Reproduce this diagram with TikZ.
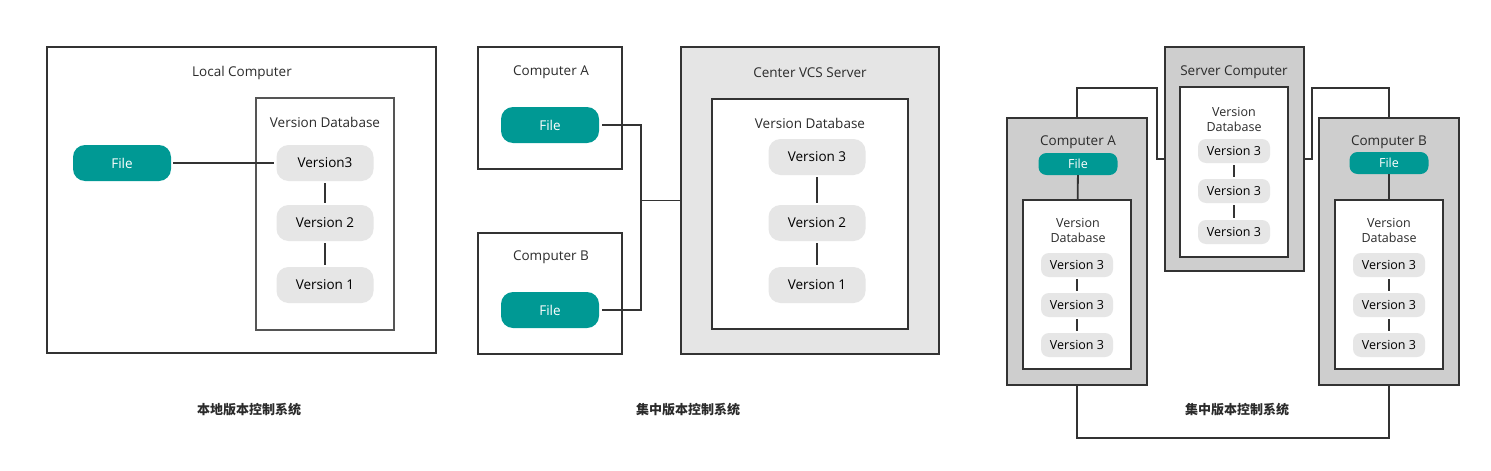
\documentclass[tikz,border=0pt]{standalone}
\usepackage{fontspec}
\setmainfont{Open Sans}
\newfontfamily\cjk{Noto Sans CJK SC}
\usetikzlibrary{positioning}

\definecolor{filegreen}{HTML}{009994}
\definecolor{vergray}{HTML}{E6E6E6}
\definecolor{srvgray}{HTML}{E5E5E5}
\definecolor{boxgray}{HTML}{CECECE}
\definecolor{linegray}{HTML}{333333}
\definecolor{dbline}{HTML}{555555}
\definecolor{txtgray}{HTML}{2B2B2B}

\tikzset{
  outerbox/.style={draw=linegray, line width=2pt, inner sep=0pt},
  dbbox/.style={draw=dbline, line width=1.6pt, fill=white, inner sep=0pt},
  title/.style={text=txtgray, inner sep=0pt, font=\fontsize{13.5}{15}\selectfont},
  filebox/.style={fill=filegreen, text=white, rounded corners=12pt, minimum width=98pt,
    minimum height=36pt, inner sep=0pt, font=\fontsize{13.5}{15}\selectfont},
  verbox/.style={fill=vergray, text=black, rounded corners=12pt, minimum width=97pt,
    minimum height=36pt, inner sep=0pt, font=\fontsize{13.5}{15}\selectfont},
  smallfile/.style={filebox, rounded corners=8pt, minimum width=79pt, minimum height=22pt,
    font=\fontsize{12.5}{14}\selectfont},
  smallver/.style={verbox, rounded corners=8pt, minimum width=72pt, minimum height=24pt,
    font=\fontsize{12.5}{14}\selectfont},
  smalltitle/.style={title, align=center, font=\fontsize{12.5}{15}\selectfont},
  link/.style={draw=linegray, line width=1.8pt, shorten <=2pt, shorten >=2pt},
  wire/.style={draw=linegray, line width=1.8pt},
  caption/.style={inner sep=0pt, text=txtgray, font=\cjk\bfseries\fontsize{13}{15}\selectfont}
}

\begin{document}
\begin{tikzpicture}[x=1pt,y=-1pt]
    \useasboundingbox (0,0) rectangle (1491,471);

    % Local version control
    \node[outerbox, minimum width=389pt, minimum height=306pt] (local) at (241.5,200) {};
    \node[title] (localT) at (242,72.5) {Local Computer};
    \node[dbbox, minimum width=138pt, minimum height=232pt] (localDB) at (325,214) {};
    \node[title] (localDBT) at (325,122.5) {Version Database};
    \node[filebox] (localF) at (122,163) {File};
    \node[verbox] (localV3) at (325,163) {Version3};
    \node[verbox] (localV2) at (325,223) {Version 2};
    \node[verbox] (localV1) at (325,285) {Version 1};
    \draw[link] (localF) -- (localV3);
    \draw[link] (localV3) -- (localV2);
    \draw[link] (localV2) -- (localV1);
    \node[caption] (localC) at (249,410) {本地版本控制系统};

    % Centralized version control
    \node[outerbox, minimum width=144pt, minimum height=122pt] (compA) at (550,108) {};
    \node[title] (compAT) at (551,72.5) {Computer A};
    \node[filebox] (fileA) at (550,125) {File};
    \node[outerbox, minimum width=144pt, minimum height=121pt] (compB) at (550,293.5) {};
    \node[title] (compBT) at (551,257.5) {Computer B};
    \node[filebox] (fileB) at (550,310) {File};
    \node[outerbox, fill=srvgray, minimum width=258pt, minimum height=307pt] (server) at (810,200.5) {};
    \node[title] (serverT) at (810,72.5) {Center VCS Server};
    \node[dbbox, draw=linegray, line width=2pt, minimum width=196pt, minimum height=230pt] (serverDB) at (810,214) {};
    \node[title] (serverDBT) at (810,123.5) {Version Database};
    \node[verbox] (serverV3) at (817,157) {Version 3};
    \node[verbox] (serverV2) at (817,223) {Version 2};
    \node[verbox] (serverV1) at (817,285) {Version 1};
    \draw[link] (serverV3) -- (serverV2);
    \draw[link] (serverV2) -- (serverV1);
    \coordinate (hub) at (641,200.5);
    \draw[wire, shorten <=3pt] (fileA.east) -| (hub);
    \draw[wire, shorten <=3pt] (fileB.east) -| (hub);
    \draw[wire] (hub) -- (server.west);
    \node[caption] (centralC) at (688,410) {集中版本控制系统};

    % Distributed version control
    \node[outerbox, fill=boxgray, minimum width=139pt, minimum height=224pt] (srv) at (1234.5,159) {};
    \node[title] (srvT) at (1234,72.5) {Server Computer};
    \node[dbbox, draw=linegray, line width=2pt, minimum width=108pt, minimum height=170pt] (srvDB) at (1234,172) {};
    \node[smalltitle] (srvDBT) at (1234,119.5) {Version\\Database};
    \node[smallver] (srvV3a) at (1234,151) {Version 3};
    \node[smallver] (srvV3b) at (1234,191) {Version 3};
    \node[smallver] (srvV3c) at (1234,232) {Version 3};
    \draw[link] (srvV3a) -- (srvV3b);
    \draw[link] (srvV3b) -- (srvV3c);

    \node[outerbox, fill=boxgray, minimum width=140pt, minimum height=267pt] (distA) at (1077,251.5) {};
    \node[title] (distAT) at (1078,142.5) {Computer A};
    \node[smallfile] (distAF) at (1078,164) {File};
    \node[dbbox, draw=linegray, line width=2pt, minimum width=108pt, minimum height=169pt] (distADB) at (1077,284.5) {};
    \node[smalltitle] (distADBT) at (1078,230.5) {Version\\Database};
    \node[smallver] (distAV3a) at (1077,265) {Version 3};
    \node[smallver] (distAV3b) at (1077,305) {Version 3};
    \node[smallver] (distAV3c) at (1077,345) {Version 3};
    \draw[wire] (distAF) -- (distADB);
    \draw[link] (distAV3a) -- (distAV3b);
    \draw[link] (distAV3b) -- (distAV3c);

    \node[outerbox, fill=boxgray, minimum width=140pt, minimum height=267pt] (distB) at (1389,251.5) {};
    \node[title] (distBT) at (1389,142.5) {Computer B};
    \node[smallfile] (distBF) at (1389,163) {File};
    \node[dbbox, draw=linegray, line width=2pt, minimum width=108pt, minimum height=169pt] (distBDB) at (1389,284.5) {};
    \node[smalltitle] (distBDBT) at (1389,230.5) {Version\\Database};
    \node[smallver] (distBV3a) at (1389,265) {Version 3};
    \node[smallver] (distBV3b) at (1389,305) {Version 3};
    \node[smallver] (distBV3c) at (1389,345) {Version 3};
    \draw[wire] (distBF) -- (distBDB);
    \draw[link] (distBV3a) -- (distBV3b);
    \draw[link] (distBV3b) -- (distBV3c);

    \coordinate (kinkA) at (1157,88);
    \coordinate (kinkB) at (1312,88);
    \coordinate (kinkC) at (1234,438);
    \draw[wire] (distA.north) |- (kinkA) |- (srv.west);
    \draw[wire] (srv.east) -| (kinkB) -| (distB.north);
    \draw[wire] (distA.south) |- (kinkC) -| (distB.south);
    \node[caption] (distC) at (1237,410) {集中版本控制系统};
\end{tikzpicture}
\end{document}
